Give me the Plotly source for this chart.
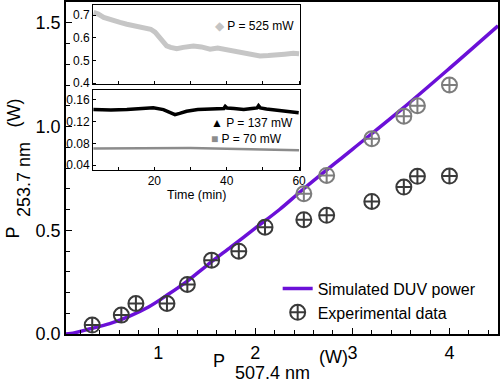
import plotly.graph_objects as go

# ---- main chart data ----
sim_x = [0.05, 0.1, 0.3, 0.5, 0.7, 0.9, 1.1, 1.3, 1.5, 1.75, 2.0, 2.25, 2.5, 3.0, 3.5, 4.0, 4.5]
sim_y = [0.0, 0.002, 0.025, 0.05, 0.085, 0.13, 0.19, 0.255, 0.33, 0.42, 0.51, 0.60, 0.70, 0.89, 1.08, 1.28, 1.485]

exp_dark_x = [0.32, 0.62, 0.77, 1.09, 1.30, 1.55, 1.83, 2.10, 2.50, 2.735, 3.20, 3.53, 3.67, 4.0]
exp_dark_y = [0.043, 0.091, 0.147, 0.147, 0.239, 0.356, 0.399, 0.515, 0.551, 0.572, 0.639, 0.708, 0.760, 0.761]

exp_gray_x = [2.50, 2.735, 3.20, 3.53, 3.67, 4.0]
exp_gray_y = [0.676, 0.764, 0.941, 1.05, 1.10, 1.20]

# ---- inset data ----
t_525 = [3.2, 4.5, 6, 8.6, 10.5, 12.4, 15, 17, 19, 20.2, 21.6, 22.5, 23.4, 24.5, 26.2, 28, 30.8,
         33, 35.4, 37.5, 40, 42, 44.6, 47, 49.2, 51.5, 53.8, 56, 58.4, 60]
v_525 = [0.712, 0.705, 0.69, 0.675, 0.668, 0.66, 0.652, 0.645, 0.638, 0.625, 0.60, 0.578, 0.565,
         0.558, 0.552, 0.558, 0.564, 0.56, 0.55, 0.555, 0.548, 0.54, 0.533, 0.525, 0.52, 0.522,
         0.523, 0.528, 0.532, 0.53]

t_137 = [3.1, 8, 12.4, 16, 19.7, 22.5, 24, 25.7, 27, 28.9, 32, 35.4, 39.2, 39.6, 40.1, 42, 44.7,
         47, 48.4, 48.8, 49.3, 51, 53.9, 57, 59.9]
v_137 = [0.142, 0.141, 0.142, 0.144, 0.1454, 0.142, 0.137, 0.1326, 0.135, 0.139, 0.142, 0.143,
         0.144, 0.148, 0.145, 0.144, 0.142, 0.144, 0.145, 0.149, 0.145, 0.143, 0.1405, 0.139, 0.136]

t_70 = [3.1, 10, 20, 30, 40, 50, 60]
v_70 = [0.0705, 0.071, 0.0712, 0.0712, 0.0700, 0.069, 0.0674]

x_ticks = [1, 2, 3, 4]
y_ticks = [0.0, 0.5, 1.0, 1.5]
y_ticktext = ["0.0", "0.5", "1.0", "1.5"]
inset_top_ticks = [0.4, 0.5, 0.6, 0.7]
inset_bot_ticks = [0.04, 0.08, 0.12, 0.16]
inset_bot_text = ["0.04", "0.08", "0.12", "0.16"]
time_ticks = [20, 40, 60]

PURPLE = "#6b10d8"
FONT = "Liberation Sans, Arial, sans-serif"

fig = go.Figure()

fig.add_trace(go.Scatter(x=sim_x, y=sim_y, mode="lines", name="Simulated DUV power",
                         line=dict(color=PURPLE, width=3.5, shape="spline"),
                         xaxis="x", yaxis="y"))
fig.add_trace(go.Scatter(x=exp_dark_x, y=exp_dark_y, mode="markers", name="Experimental data",
                         marker=dict(symbol="circle-cross-open", size=15, color="#3a3a3a",
                                     line=dict(width=2, color="#3a3a3a")),
                         legendgroup="exp", xaxis="x", yaxis="y"))
fig.add_trace(go.Scatter(x=exp_gray_x, y=exp_gray_y, mode="markers", name="Experimental data",
                         marker=dict(symbol="circle-cross-open", size=15, color="#7d7d7d",
                                     line=dict(width=2, color="#7d7d7d")),
                         legendgroup="exp", showlegend=False, xaxis="x", yaxis="y"))

# inset traces
fig.add_trace(go.Scatter(x=t_525, y=v_525, mode="lines", showlegend=False,
                         line=dict(color="#c6c6c6", width=5), xaxis="x2", yaxis="y2"))
fig.add_trace(go.Scatter(x=t_137, y=v_137, mode="lines", showlegend=False,
                         line=dict(color="#000000", width=3.5), xaxis="x3", yaxis="y3"))
fig.add_trace(go.Scatter(x=t_70, y=v_70, mode="lines", showlegend=False,
                         line=dict(color="#8c8c8c", width=2.5), xaxis="x3", yaxis="y3"))

axis_common = dict(showgrid=False, zeroline=False, showline=True, linecolor="black",
                   linewidth=1.5, mirror=True, ticks="inside", tickcolor="black",
                   automargin=False)
inset_common = dict(axis_common, linewidth=1.2)

fig.update_layout(
    width=500, height=386,
    margin=dict(l=66, r=2, t=2, b=52),
    paper_bgcolor="white", plot_bgcolor="white",
    font=dict(family=FONT, color="black"),
    showlegend=True,
    legend=dict(x=0.49, y=0.188, xanchor="left", yanchor="top",
                font=dict(size=16, family=FONT), bgcolor="rgba(0,0,0,0)",
                tracegroupgap=0, itemwidth=30),
    xaxis=dict(**axis_common, range=[0.05, 4.5], tickvals=x_ticks, ticklen=6, tickwidth=1.2,
               tickfont=dict(size=18), ticklabelstandoff=2,
               minor=dict(dtick=0.2, ticks="inside", ticklen=4, tickcolor="black", tick0=0)),
    yaxis=dict(**axis_common, range=[0, 1.6], tickvals=y_ticks, ticktext=y_ticktext,
               ticklen=6, tickwidth=1.2, tickfont=dict(size=18),
               minor=dict(dtick=0.1, ticks="inside", ticklen=4, tickcolor="black", tick0=0)),
    xaxis2=dict(**inset_common, domain=[0.063, 0.542], anchor="y2", range=[3.1, 60.3],
                tickvals=time_ticks, showticklabels=False, ticklen=3,
                minor=dict(dtick=10, ticks="inside", ticklen=3, tickcolor="black")),
    yaxis2=dict(**inset_common, domain=[0.752, 0.991], anchor="x2", range=[0.395, 0.745],
                tickvals=inset_top_ticks, ticklen=3, tickfont=dict(size=12)),
    xaxis3=dict(**inset_common, domain=[0.063, 0.542], anchor="y3", range=[3.1, 60.3],
                tickvals=time_ticks, ticklen=3, tickfont=dict(size=12),
                minor=dict(dtick=10, ticks="inside", ticklen=3, tickcolor="black"),
                title=dict(text="Time (min)", font=dict(size=12.5), standoff=2)),
    yaxis3=dict(**inset_common, domain=[0.494, 0.735], anchor="x3", range=[0.031, 0.178],
                tickvals=inset_bot_ticks, ticktext=inset_bot_text,
                ticklen=3, tickfont=dict(size=12)),
)

# axis titles built from pieces (Origin-style sub/super placement)
title_font = dict(size=18, family=FONT, color="black")
y_title_parts = [("P", -0.1215, 0.304), ("253.7 nm", -0.0972, 0.464), ("(W)", -0.1215, 0.666)]
for txt, px, py in y_title_parts:
    fig.add_annotation(xref="paper", yref="paper", x=px, y=py, text=txt, textangle=-90,
                       xanchor="center", yanchor="middle", showarrow=False, font=title_font)
x_title_parts = [("P", 0.354, -0.0813), ("507.4 nm", 0.478, -0.1175), ("(W)", 0.620, -0.0693)]
for txt, px, py in x_title_parts:
    fig.add_annotation(xref="paper", yref="paper", x=px, y=py, text=txt,
                       xanchor="center", yanchor="middle", showarrow=False, font=title_font)

ann_font = dict(size=12, family=FONT, color="black")
fig.add_annotation(xref="paper", yref="paper", x=0.34, y=0.928, xanchor="left", yanchor="middle",
                   text="<span style='color:#c4c4c4'>◆</span> P = 525 mW",
                   showarrow=False, font=ann_font)
fig.add_annotation(xref="paper", yref="paper", x=0.331, y=0.635, xanchor="left", yanchor="middle",
                   text="▲ P = 137 mW",
                   showarrow=False, font=ann_font)
fig.add_annotation(xref="paper", yref="paper", x=0.331, y=0.587, xanchor="left", yanchor="middle",
                   text="<span style='color:#8c8c8c'>■</span> P = 70 mW",
                   showarrow=False, font=ann_font)

fig.write_html("out.html", config={"displayModeBar": False},
               post_script="document.body.style.margin='0';document.body.style.padding='0';")
